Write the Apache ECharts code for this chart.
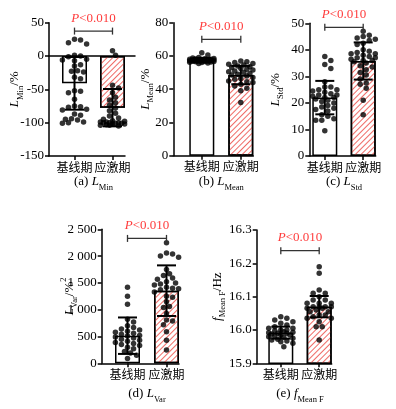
<!DOCTYPE html>
<html>
<head>
<meta charset="utf-8">
<script src="https://cdn.jsdelivr.net/npm/echarts@6/dist/echarts.min.js"></script>
<style>
  html, body { margin: 0; padding: 0; background: #fff; }
  #chart { width: 396px; height: 409px; }
</style>
</head>
<body>
<div id="chart"></div>
<script>
const categories = ['基线期', '应激期'];
const pLabel = '{i|P}<0.010';

// (a) L_Min
const lMinBase = [25, 24, 20, 18, 1, 0, -1, -5, -6, -7, -13, -15, -22, -23, -24, -32, -34, -52, -53, -55, -65, -75, -76, -77, -80, -81, -87, -89, -94, -95, -96, -99, -100, -101];
const lMinStress = [8, 1, -44, -48, -55, -62, -66, -70, -74, -78, -82, -86, -90, -93, -95, -97, -98, -99, -99, -100, -100, -100, -101, -101, -102, -102, -103, -104, -104, -105];
const lMinMean = [-41, -77.5];
const lMinSd = [39.5, 28];

// (b) L_Mean
const lMeanBase = [62, 60.5, 59, 58.8, 58.5, 58.3, 58.2, 58, 58, 57.8, 57.7, 57.6, 57.5, 57.5, 57.4, 57.3, 57.2, 57.1, 57, 57, 56.9, 56.8, 56.7, 56.6, 56.5, 56.4, 56.2, 56, 55.8, 55.5];
const lMeanStress = [57, 56.5, 56, 55.5, 55, 54.5, 54, 53.5, 53, 52.5, 52, 51.5, 51, 50.5, 50, 49.5, 49, 48.5, 48, 47, 46.5, 46, 45, 44.5, 44, 43, 42, 40.5, 39, 32];
const lMeanMean = [57.5, 48.5];
const lMeanSd = [1.3, 5.5];

// (c) L_Std
const lStdBase = [37.5, 36, 34.5, 33, 28, 26, 26, 25, 25, 24.5, 24, 23.5, 23, 23, 22.5, 22, 22, 21.5, 21, 20.5, 20, 19, 18.5, 18, 17.5, 17, 15.5, 15, 14, 13.5, 13.5, 9.5];
const lStdStress = [47, 45.5, 45, 44.5, 44, 43.5, 42.5, 42, 40, 39.5, 39, 38.5, 38.5, 38, 37.5, 37, 37, 36.5, 36, 36, 35.5, 35, 34, 33.5, 32.5, 31.5, 30.5, 29, 27.5, 27, 25.5, 21, 15.5];
const lStdMean = [22, 35.8];
const lStdSd = [6.3, 7];

// (d) L_Var
const lVarBase = [1420, 1250, 1100, 820, 770, 700, 670, 640, 620, 600, 580, 560, 540, 520, 510, 490, 470, 450, 430, 410, 390, 370, 350, 330, 300, 270, 220, 190, 150, 90];
const lVarStress = [2250, 2060, 2040, 2000, 1980, 1750, 1670, 1640, 1590, 1570, 1520, 1500, 1480, 1460, 1420, 1400, 1390, 1370, 1330, 1250, 1230, 1150, 1060, 1040, 930, 810, 790, 720, 590, 430, 250];
const lVarMean = [515, 1355];
const lVarSd = [340, 472];

// (e) f_Mean F
const fMeanBase = [16.04, 16.035, 16.03, 16.025, 16.02, 16.015, 16.01, 16.005, 16.005, 16.0, 16.0, 15.998, 15.995, 15.993, 15.992, 15.99, 15.99, 15.988, 15.986, 15.985, 15.983, 15.98, 15.978, 15.975, 15.972, 15.97, 15.967, 15.965, 15.96, 15.95];
const fMeanStress = [16.19, 16.17, 16.12, 16.11, 16.11, 16.1, 16.09, 16.09, 16.08, 16.08, 16.08, 16.07, 16.07, 16.07, 16.07, 16.065, 16.065, 16.06, 16.055, 16.055, 16.045, 16.045, 16.04, 16.035, 16.035, 16.025, 16.01, 16.01, 15.97];
const fMeanMean = [15.992, 16.07];
const fMeanSd = [0.018, 0.032];

// axes
const yMin = [-150, 0, 0, 0, 15.9];
const yMax = [50, 80, 50, 2500, 16.3];
const yStep = [50, 20, 10, 500, 0.1];
const bracketAt = [37.4, 70, 48.5, 2330, 16.238];

const serif = "'Liberation Serif', 'Times New Roman', serif";
const cjk = "'Noto Sans CJK SC', sans-serif";

const richText = {
  i: { fontFamily: serif, fontStyle: 'italic', fontSize: 13, lineHeight: 20, color: '#000' },
  n: { fontFamily: serif, fontSize: 13, lineHeight: 20, color: '#000' },
  s: { fontFamily: serif, fontSize: 8.5, lineHeight: 9, verticalAlign: 'bottom', color: '#000' },
  p: { fontFamily: serif, fontSize: 8.5, lineHeight: 9, verticalAlign: 'top', color: '#000' }
};

const panels = [
  { groups: [lMinBase, lMinStress], mean: lMinMean, sd: lMinSd,
    left: 49, top: 22.7, right: 125, bottom: 156, c0: 74.5, c1: 112.5, gap: 24, capY: 182,
    name: '{i|L}{s|Min}{n|/%}', caption: '{n|(a) }{i|L}{s|Min}',
    fmt: v => String(v) },
  { groups: [lMeanBase, lMeanStress], mean: lMeanMean, sd: lMeanSd,
    left: 173.3, top: 22.7, right: 253.3, bottom: 155.7, c0: 201.8, c1: 240.8, gap: 18, capY: 182,
    name: '{i|L}{s|Mean}{n|/%}', caption: '{n|(b) }{i|L}{s|Mean}',
    fmt: v => String(v) },
  { groups: [lStdBase, lStdStress], mean: lStdMean, sd: lStdSd,
    left: 309.3, top: 23.3, right: 375.7, bottom: 156, c0: 324.8, c1: 363.2, gap: 24, capY: 182,
    name: '{i|L}{s|Std}{n|/%}', caption: '{n|(c) }{i|L}{s|Std}',
    fmt: v => String(v) },
  { groups: [lVarBase, lVarStress], mean: lVarMean, sd: lVarSd,
    left: 101.7, top: 229.3, right: 179, bottom: 363.3, c0: 127.5, c1: 166.5, gap: 22, capY: 394,
    name: '{i|L}{s|Var}{n|/%}{p|2}', caption: '{n|(d) }{i|L}{s|Var}',
    fmt: v => v >= 1000 ? Math.floor(v / 1000) + ' ' + String(v % 1000).padStart(3, '0') : String(v) },
  { groups: [fMeanBase, fMeanStress], mean: fMeanMean, sd: fMeanSd,
    left: 256.7, top: 230, right: 331.7, bottom: 363.3, c0: 280.8, c1: 319.2, gap: 29, capY: 394,
    name: '{i|f}{s|Mean F}{n|/Hz}', caption: '{n|(e) }{i|f}{s|Mean F}',
    fmt: v => v.toFixed(1) }
];

// red diagonal hatch for the stress bars
const hatch = {
  symbol: 'rect', symbolSize: 1, color: '#ef6a65',
  dashArrayX: [1, 0], dashArrayY: [0.9, 2.3], rotation: -Math.PI / 4
};

// simple beeswarm: horizontal pixel offsets so dots do not pile up
function swarm(values, pxPerUnit, size, maxOff) {
  const order = values.map((v, i) => i).sort((a, b) => values[b] - values[a]);
  const placed = [];
  const offs = new Array(values.length).fill(0);
  const step = size * 0.55;
  order.forEach(i => {
    const y = values[i] * pxPerUnit;
    let best = 0, bestD = -1;
    for (let k = 0; k * step <= maxOff; k++) {
      const cands = k === 0 ? [0] : [k * step, -k * step];
      let done = false;
      for (const dx of cands) {
        let d = Infinity;
        placed.forEach(p => { d = Math.min(d, Math.hypot(p[0] - dx, p[1] - y)); });
        if (d >= size * 0.95) { best = dx; done = true; break; }
        if (d > bestD) { bestD = d; best = dx; }
      }
      if (done) break;
    }
    offs[i] = best;
    placed.push([best, y]);
  });
  return offs;
}

const grid = [], xAxis = [], yAxis = [], series = [], title = [];
const black = { color: '#000', width: 1.5 };

panels.forEach((p, k) => {
  const ux = p.c1 - p.c0;
  const xmin = -(p.c0 - p.left) / ux;
  const xmax = 1 + (p.right - p.c1) / ux;
  const h = p.bottom - p.top;
  grid.push({ left: p.left, top: p.top, width: p.right - p.left, height: h, containLabel: false, outerBoundsMode: 'none' });
  xAxis.push({
    gridIndex: k, type: 'value', min: xmin, max: xmax,
    axisLine: { show: true, onZero: false, lineStyle: black },
    axisTick: { show: true, customValues: [0, 1], length: 4, lineStyle: black },
    axisLabel: { customValues: [0, 1], formatter: v => categories[Math.round(v)], margin: 5,
      fontFamily: cjk, fontSize: 12, color: '#000' },
    splitLine: { show: false }
  });
  yAxis.push({
    gridIndex: k, type: 'value', min: yMin[k], max: yMax[k], interval: yStep[k],
    name: p.name, nameLocation: 'middle', nameRotate: 90, nameGap: p.gap, nameMoveOverlap: false,
    nameTextStyle: { rich: richText },
    axisLine: { show: true, onZero: false, lineStyle: black },
    axisTick: { show: true, length: 4, lineStyle: black },
    axisLabel: { formatter: p.fmt, margin: 5, fontFamily: serif, fontSize: 13, color: '#000' },
    splitLine: { show: false }
  });

  series.push({
    type: 'bar', xAxisIndex: k, yAxisIndex: k, barWidth: 25, z: 2,
    data: p.mean.map((m, g) => ({
      value: [g, m],
      itemStyle: g === 0
        ? { color: '#fff', borderColor: '#000', borderWidth: 1.5 }
        : { color: '#fff', decal: hatch, borderColor: '#000', borderWidth: 1.5 }
    }))
  });

  const pxPerUnit = h / (yMax[k] - yMin[k]);
  p.groups.forEach((vals, g) => {
    const offs = swarm(vals, pxPerUnit, 5.5, 13);
    series.push({
      type: 'scatter', xAxisIndex: k, yAxisIndex: k, z: 3,
      symbol: 'circle', symbolSize: 5.5, itemStyle: { color: '#000' },
      data: vals.map((v, i) => ({ value: [g, v], symbolOffset: [offs[i], 0] }))
    });
  });

  series.push({
    type: 'custom', xAxisIndex: k, yAxisIndex: k, z: 4,
    encode: { x: 0, y: 1 },
    data: p.mean.map((m, g) => [g, m, p.sd[g]]),
    renderItem: (params, api) => {
      const x = api.value(0), m = api.value(1), s = api.value(2);
      const hi = api.coord([x, m + s]), lo = api.coord([x, m - s]);
      const cw = 9.5;
      const style = { stroke: '#000', lineWidth: 2 };
      return { type: 'group', children: [
        { type: 'line', shape: { x1: hi[0], y1: hi[1], x2: lo[0], y2: lo[1] }, style },
        { type: 'line', shape: { x1: hi[0] - cw, y1: hi[1], x2: hi[0] + cw, y2: hi[1] }, style },
        { type: 'line', shape: { x1: lo[0] - cw, y1: lo[1], x2: lo[0] + cw, y2: lo[1] }, style }
      ] };
    }
  });

  series.push({
    type: 'custom', xAxisIndex: k, yAxisIndex: k, z: 4,
    encode: { x: [0, 1], y: 2 },
    data: [[0, 1, bracketAt[k]]],
    renderItem: (params, api) => {
      const a = api.coord([api.value(0), api.value(2)]);
      const b = api.coord([api.value(1), api.value(2)]);
      const style = { stroke: '#333', lineWidth: 1.3 };
      return { type: 'group', children: [
        { type: 'line', shape: { x1: a[0], y1: a[1], x2: b[0], y2: b[1] }, style },
        { type: 'line', shape: { x1: a[0], y1: a[1] - 3.5, x2: a[0], y2: a[1] + 3.5 }, style },
        { type: 'line', shape: { x1: b[0], y1: b[1] - 3.5, x2: b[0], y2: b[1] + 3.5 }, style },
        { type: 'text', x: (a[0] + b[0]) / 2, y: a[1] - 13,
          style: { text: pLabel, align: 'center', verticalAlign: 'middle', fill: '#ff3b3b',
            font: '13px ' + serif,
            rich: { i: { fontStyle: 'italic', fontFamily: serif, fontSize: 13, fill: '#ff3b3b' } } } }
      ] };
    }
  });

  title.push({
    text: p.caption, left: (p.c0 + p.c1) / 2, top: p.capY - 10, textAlign: 'center', padding: 0,
    textStyle: { fontWeight: 'normal', rich: richText }
  });
});

// zero reference line of panel (a), running a little past its last bar
grid.push({ left: 49, top: 22.7, width: 86, height: 133.3, containLabel: false, outerBoundsMode: 'none' });
xAxis.push({ gridIndex: 5, type: 'value', min: 0, max: 1,
  axisLine: { show: true, onZero: true, lineStyle: black },
  axisTick: { show: false }, axisLabel: { show: false }, splitLine: { show: false } });
yAxis.push({ gridIndex: 5, type: 'value', min: yMin[0], max: yMax[0], show: false });

const chart = echarts.init(document.getElementById('chart'), null, { renderer: 'canvas' });
chart.setOption({
  animation: false,
  backgroundColor: '#fff',
  aria: { enabled: false, decal: { show: false } },
  title, grid, xAxis, yAxis, series
});
</script>
</body>
</html>
